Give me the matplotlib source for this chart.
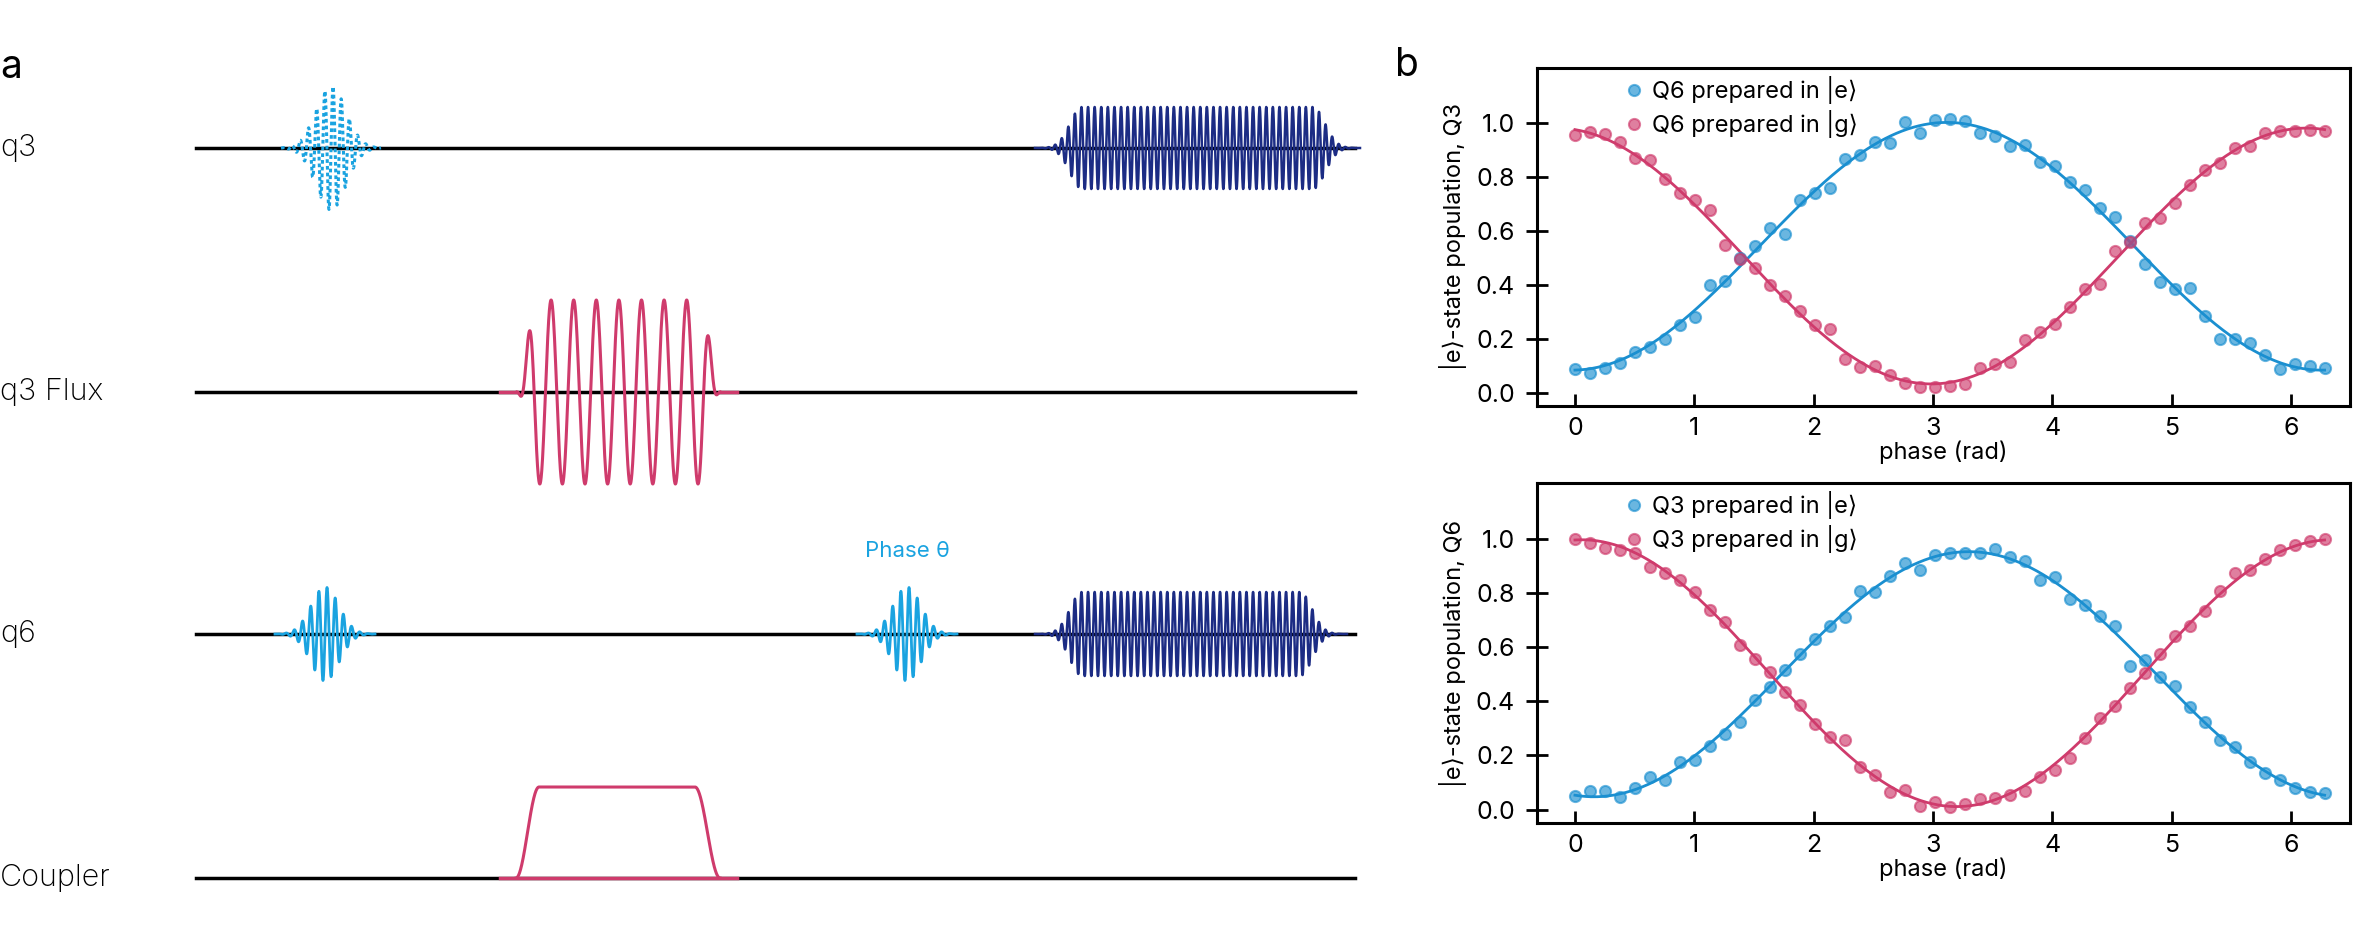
import numpy as np
import matplotlib
matplotlib.use("Agg")
import matplotlib.pyplot as plt

plt.rcParams['font.family'] = ['Inter', 'DejaVu Sans']

BLUE = '#1a8fd0'
LBLUE = '#1aa3e0'
PINK = '#cf3b6c'
NAVY = '#1c2c84'

phase = np.linspace(0, 2*np.pi, 51)
q3_e = [0.088,0.075,0.093,0.112,0.152,0.169,0.201,0.253,0.280,0.401,0.416,0.500,0.544,0.611,0.589,0.717,0.742,0.759,0.868,0.883,0.930,0.925,
        1.006,0.964,1.011,1.016,1.009,0.964,0.954,0.915,0.920,0.858,0.843,0.781,0.752,0.685,0.653,0.562,0.478,0.411,0.386,0.389,0.285,0.199,0.201,0.186,0.140,0.090,
        0.105,0.100,0.092]
q3_g = [0.957,0.969,0.959,0.930,0.870,0.863,0.794,0.742,0.715,0.677,0.547,0.498,0.463,0.401,0.359,0.302,0.251,0.236,0.125,0.095,0.098,0.065,
        0.038,0.023,0.023,0.026,0.031,0.093,0.105,0.115,0.196,0.226,0.256,0.317,0.384,0.404,0.527,0.559,0.631,0.648,0.705,0.772,0.826,0.853,0.907,0.915,0.964,0.973,
        0.970,0.975,0.970]
q6_e = [0.049,0.069,0.069,0.047,0.079,0.121,0.111,0.175,0.185,0.235,0.279,0.323,0.405,0.454,0.516,0.573,0.630,0.679,0.709,0.805,0.802,0.862,
        0.909,0.884,0.941,0.948,0.948,0.946,0.963,0.931,0.919,0.847,0.859,0.778,0.756,0.716,0.677,0.531,0.551,0.489,0.457,0.378,0.323,0.257,0.230,0.175,0.136,0.109,
        0.080,0.065,0.060]
q6_g = [0.998,0.985,0.965,0.958,0.946,0.896,0.874,0.847,0.802,0.738,0.691,0.607,0.556,0.509,0.435,0.388,0.316,0.267,0.257,0.158,0.128,0.067,
        0.072,0.015,0.027,0.010,0.020,0.040,0.044,0.054,0.069,0.121,0.148,0.190,0.264,0.338,0.383,0.449,0.504,0.575,0.642,0.677,0.733,0.807,0.872,0.884,0.926,0.957,
        0.975,0.990,1.000]
legend_top = ['Q6 prepared in |e⟩', 'Q6 prepared in |g⟩']
legend_bot = ['Q3 prepared in |e⟩', 'Q3 prepared in |g⟩']
ylabels = ['|e⟩-state population, Q3', '|e⟩-state population, Q6']
row_labels = ['q3', 'q3 Flux', 'q6', 'Coupler']

W, H = 2366, 932
fig = plt.figure(figsize=(W/100, H/100), dpi=100)

# ---------- panel a (pixel coordinates) ----------
axa = fig.add_axes([0, 0, 1, 1])
axa.set_xlim(0, W); axa.set_ylim(H, 0); axa.axis('off')
rows_y = [148, 392, 634, 878]
x0, x1 = 196, 1355
for y, lab in zip(rows_y, row_labels):
    axa.plot([x0, x1], [y, y], color='black', lw=2.5, zorder=1)
    axa.text(0, y, lab, fontsize=22, va='center', ha='left', fontweight='light')
axa.text(0, 68, 'a', fontsize=28, va='center', ha='left')
axa.text(1395, 66, 'b', fontsize=28, va='center', ha='left')

def gauss_pulse(c, sig, amp, per, n=1500, half=50):
    x = np.linspace(c-half, c+half, n)
    return x, amp*np.exp(-(x-c)**2/(2*sig**2))*np.sin(2*np.pi*(x-c)/per)

# q3 dotted gaussian
x, y = gauss_pulse(331, 15, 62, 8.2)
axa.plot(x, rows_y[0]-y, color=LBLUE, lw=2.2, ls=(0, (1.2, 1.0)), zorder=2)
# q6 gaussians
for c in (325, 907):
    x, y = gauss_pulse(c, 14, 47, 8.2)
    axa.plot(x, rows_y[2]-y, color=LBLUE, lw=2, zorder=2)
axa.text(907, 551, 'Phase θ', color=LBLUE, fontsize=16, ha='center', va='center')
# navy readout pulses
for row, a, b, amp in ((0, 1060, 1335, 41), (2, 1060, 1322, 42)):
    x = np.linspace(a-25, b+25, 6000)
    env = np.exp(-np.clip(a+22-x, 0, None)**2/(2*12**2))*np.exp(-np.clip(x-(b-22), 0, None)**2/(2*12**2))
    y = amp*env*np.sin(2*np.pi*(x-a)/6.6)
    axa.plot(x, rows_y[row]-y, color=NAVY, lw=1.8, zorder=2)
# flux pulse
x = np.linspace(517, 720, 3000)
ramp = 0.5*(1 - np.cos(np.pi*np.clip((x-517)/20, 0, 1))) * 0.5*(1 - np.cos(np.pi*np.clip((720-x)/20, 0, 1)))
y = 92*ramp*np.cos(2*np.pi*(x-528.5)/22.6)
axa.plot([500, 517], [rows_y[1]]*2, color=PINK, lw=2.5, zorder=2)
axa.plot([720, 737], [rows_y[1]]*2, color=PINK, lw=2.5, zorder=2)
axa.plot(x, rows_y[1]-y, color=PINK, lw=2.2, zorder=2)
# coupler
x = np.linspace(516, 720, 1000)
env = 0.5*(1 - np.cos(np.pi*np.clip((x-516)/23, 0, 1))) * 0.5*(1 - np.cos(np.pi*np.clip((720-x)/25, 0, 1)))
axa.plot([500, 737], [rows_y[3]]*2, color=PINK, lw=2.5, zorder=2)
axa.plot(x, rows_y[3]-91*env, color=PINK, lw=2.2, zorder=3)

# ---------- panel b ----------
def make_ax(top, bot, e, g, leg, ylab):
    left, right = 1537, 2350
    ax = fig.add_axes([left/W, 1-bot/H, (right-left)/W, (bot-top)/H])
    for vals, col, lab in ((e, BLUE, leg[0]), (g, PINK, leg[1])):
        vals = np.asarray(vals)
        A = np.column_stack([np.ones_like(phase), np.cos(phase), np.sin(phase)])
        coef = np.linalg.lstsq(A, vals, rcond=None)[0]
        xf = np.linspace(0, 2*np.pi, 400)
        ax.plot(xf, coef[0]+coef[1]*np.cos(xf)+coef[2]*np.sin(xf), color=col, lw=2, zorder=2)
        ax.plot(phase, vals, 'o', ms=8, color=col, alpha=0.65, mew=1.5, label=lab, zorder=3)
    ax.set_xlim(-0.318, 6.496)
    ax.set_ylim(-0.049, 1.205)
    ax.set_xticks(range(7))
    ax.set_yticks([0, 0.2, 0.4, 0.6, 0.8, 1.0])
    ax.set_yticklabels(['0.0', '0.2', '0.4', '0.6', '0.8', '1.0'])
    ax.tick_params(axis='x', direction='in', length=9, width=2, labelsize=18, pad=8)
    ax.tick_params(axis='y', direction='inout', length=16, width=2, labelsize=18, pad=8)
    for s in ax.spines.values():
        s.set_linewidth(2.2)
    ax.set_xlabel('phase (rad)', fontsize=17, labelpad=0)
    ax.set_ylabel(ylab, fontsize=17, labelpad=6)
    ax.legend(loc='upper left', bbox_to_anchor=(0.081, 1.024), frameon=False, fontsize=17,
              handletextpad=0.2, borderaxespad=0.3, labelspacing=0.25, handlelength=1.2)
    return ax

make_ax(68, 406, q3_e, q3_g, legend_top, ylabels[0])
make_ax(483, 823, q6_e, q6_g, legend_bot, ylabels[1])

fig.savefig('out.png', dpi=100)
